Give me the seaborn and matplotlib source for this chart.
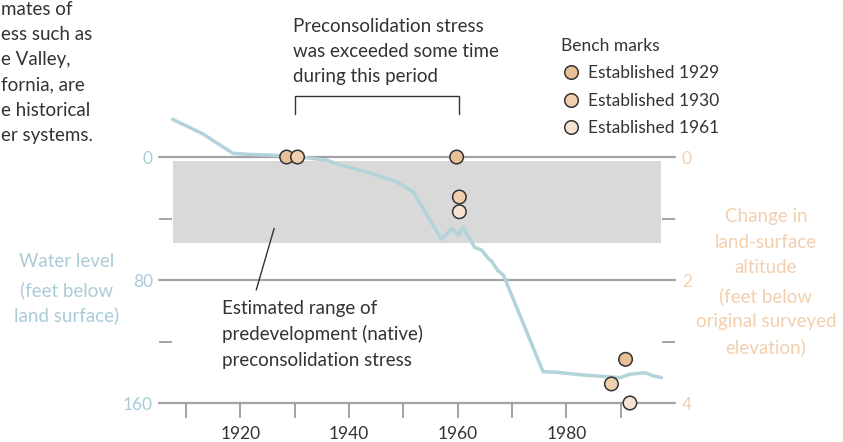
import matplotlib
matplotlib.use("Agg")
import matplotlib.pyplot as plt
import pandas as pd
import seaborn as sns

W, H = 843, 442

# water level (feet below land surface)
years = [1907.5, 1913.1, 1918.6, 1921.1, 1926.6, 1931.5, 1935.8, 1938.9, 1942.6,
         1945.0, 1948.7, 1951.8, 1957.0, 1958.9, 1960.1, 1961.0, 1963.1, 1964.4,
         1965.6, 1966.2, 1967.4, 1968.4, 1975.7, 1978.2, 1983.1, 1987.4, 1989.9,
         1991.7, 1994.5, 1996.0, 1997.5]
water_level_ft = [-24.5, -15.0, -2.4, -1.8, -1.1, 0.2, 2.0, 5.7, 9.1,
                  11.7, 16.1, 22.6, 53.5, 46.4, 50.7, 45.7, 58.7, 60.5,
                  65.9, 67.6, 74.0, 76.7, 139.6, 140.0, 141.8, 142.9, 143.5,
                  141.3, 140.3, 142.4, 143.5]

# bench marks: change in land-surface altitude (feet below original elevation)
bench_years = [1928.5, 1930.5, 1959.8, 1960.3, 1960.3, 1988.3, 1990.9, 1991.7]
bench_subsidence_ft = [0.0, 0.0, 0.0, 0.65, 0.89, 3.69, 3.29, 4.0]
bench_established = ["Established 1929", "Established 1930", "Established 1929",
                     "Established 1930", "Established 1961", "Established 1930",
                     "Established 1929", "Established 1961"]
bench_order = ["Established 1929", "Established 1930", "Established 1961"]
bench_colors = ["#e9bf98", "#f0cfae", "#f8e3d3"]

# estimated range of predevelopment preconsolidation stress
range_years = [1907.5, 1997.5]
range_top_ft = [2.4, 2.4]
range_bottom_ft = [55.7, 55.7]

tick_years = [1910, 1920, 1930, 1940, 1950, 1960, 1970, 1980, 1990]
tick_labels = ["", "1920", "", "1940", "", "1960", "", "1980", ""]
water_ticks = [0, 80, 160]
water_minor = [40, 120]
sub_ticks = [0, 2, 4]
sub_minor = [1, 3]

GRID = "#a3a3a3"
TEXT = "#333333"
BLUE = "#b3d3da"
BLUE_TXT = "#a9ccd6"
ORANGE_TXT = "#f2cfae"
SHADE = "#d9d9d9"
NOTE_SIZE = 13.5

sns.set_style("white")
plt.rcParams["font.family"] = ["Lato", "DejaVu Sans"]
plt.rcParams["font.size"] = 12.5

fig = plt.figure(figsize=(W / 100, H / 100), dpi=100)
ax = fig.add_axes([159 / W, 1 - 403 / H, 516 / W, 292.1 / H])
ax.patch.set_alpha(0)

ax.fill_between(range_years, range_top_ft, range_bottom_ft, color=SHADE, lw=0, zorder=0)
for v in water_ticks:
    ax.axhline(v, color=GRID, lw=1.6, zorder=1, clip_on=False)
sns.lineplot(x=years, y=water_level_ft, color=BLUE, lw=2.5, ax=ax, zorder=3)

ax.set_xlim(1905, 2000)
ax.set_ylim(160, -30)
ax.set_xticks(tick_years)
ax.set_xticklabels(tick_labels)
ax.set_yticks(water_ticks)
ax.set_yticks(water_minor, minor=True)
ax.tick_params(axis="x", bottom=True, direction="out", length=10.8, width=1.4,
               color=GRID, pad=6, labelcolor=TEXT)
ax.tick_params(axis="y", which="major", left=True, length=0, pad=4.5, labelcolor=BLUE_TXT)
ax.tick_params(axis="y", which="minor", left=True, direction="in", length=9.4,
               width=1.4, color=GRID)
ax.set_xlabel("")
ax.set_ylabel("")
sns.despine(ax=ax, left=True, bottom=True)

ax2 = ax.twinx()
bench = pd.DataFrame({"year": bench_years, "subsidence": bench_subsidence_ft,
                      "established": bench_established})
sns.scatterplot(data=bench, x="year", y="subsidence", hue="established",
                hue_order=bench_order, palette=bench_colors, s=95,
                edgecolor="#333333", linewidth=1.1, ax=ax2, zorder=4, clip_on=False)
ax2.set_ylim(4, -0.75)
ax2.set_xlim(1905, 2000)
ax2.set_yticks(sub_ticks)
ax2.set_yticks(sub_minor, minor=True)
ax2.tick_params(axis="y", which="major", right=True, length=0, pad=5, labelcolor=ORANGE_TXT)
ax2.tick_params(axis="y", which="minor", right=True, direction="in", length=9.4,
                width=1.4, color=GRID)
ax2.set_xlabel("")
ax2.set_ylabel("")
for s in ax2.spines.values():
    s.set_visible(False)

leg = ax2.legend(title="Bench marks", loc="upper left", frameon=False,
                 bbox_to_anchor=(554 / W, 1 - 31 / H), bbox_transform=fig.transFigure,
                 alignment="left", handletextpad=0.35, labelspacing=0.66,
                 borderaxespad=0, handlelength=1.2, fontsize=12.5, title_fontsize=12.5)
for t in leg.get_texts():
    t.set_color(TEXT)
leg.get_title().set_color(TEXT)

# bracket over the period when preconsolidation stress was exceeded
ax.plot([1930, 1930, 1960.2, 1960.2], [-28, -39.7, -39.7, -28], color=TEXT,
        lw=1.0, clip_on=False)
# leader line to the shaded range
ax.plot([1926.2, 1922.9], [46.4, 86.5], color=TEXT, lw=1.0)


def put_lines(x, y0, step, lines, **kw):
    for i, line in enumerate(lines):
        fig.text(x / W, 1 - (y0 + i * step) / H, line, va="baseline",
                 fontsize=NOTE_SIZE, **kw)


put_lines(1, 15, 25.2, ["mates of", "ess such as", "e Valley,", "fornia, are",
                        "e historical", "er systems."], color=TEXT)
put_lines(293, 32, 25, ["Preconsolidation stress", "was exceeded some time",
                        "during this period"], color=TEXT)
put_lines(222, 314, 26, ["Estimated range of", "predevelopment (native)",
                         "preconsolidation stress"], color=TEXT)
put_lines(67, 267, 28, ["Water level"], color=BLUE_TXT, ha="center")
put_lines(67, 296, 25, ["(feet below", "land surface)"], color=BLUE_TXT, ha="center")
put_lines(766, 222, 25.5, ["Change in", "land-surface", "altitude"], color=ORANGE_TXT, ha="center")
put_lines(766, 302, 25.5, ["(feet below", "original surveyed", "elevation)"],
          color=ORANGE_TXT, ha="center")

fig.savefig("out.png", dpi=100)
